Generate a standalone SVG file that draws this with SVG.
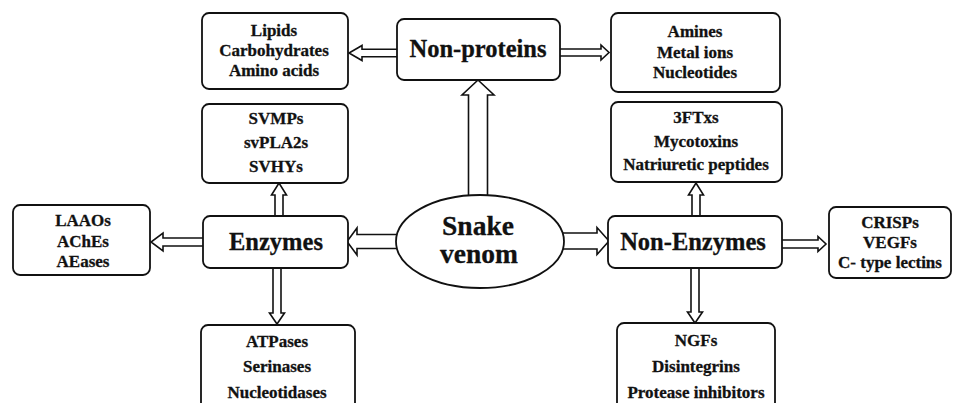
<svg xmlns="http://www.w3.org/2000/svg" width="953" height="403" viewBox="0 0 953 403">
<style>
.box{fill:#fff;stroke:#111;stroke-width:1.8}
.arr{fill:#fff;stroke:#111;stroke-width:1.6;stroke-linejoin:miter}
text{font-family:"Liberation Serif","Times New Roman",serif;font-weight:bold;fill:#111;text-anchor:middle;stroke:#111;stroke-width:0.3}
.s{font-size:17px}
.m{font-size:24.5px}
.l{font-size:27.5px}
</style>
<rect width="953" height="403" fill="#fff"/>
<g id="connectors">
<polygon class="arr" points="400,49.3 362,49.3 362,45.5 349,53 362,60.5 362,56.7 400,56.7"/>
<polygon class="arr" points="558,49 601,49 601,45 609,52.5 601,60 601,56 558,56"/>
<polygon class="arr" points="468.5,210 468.5,95 462,95 478,80 494,95 487.5,95 487.5,210"/>
<polygon class="arr" points="410,234.5 357,234.5 357,228 347,241.5 357,255 357,248.5 410,248.5"/>
<polygon class="arr" points="550,233 597,233 597,227.5 609,241 597,254.5 597,249 550,249"/>
<polygon class="arr" points="275,220 275,195 271.5,195 279,183 286.5,195 283,195 283,220"/>
<polygon class="arr" points="206,238 163,238 163,233 151,242 163,251 163,246 206,246"/>
<polygon class="arr" points="273,265 273,313 269.5,313 277,324 284.5,313 281,313 281,265"/>
<polygon class="arr" points="692,220 692,195 688.5,195 696,183 703.5,195 700,195 700,220"/>
<polygon class="arr" points="779,240 818,240 818,236.5 826,244 818,251.5 818,248 779,248"/>
<polygon class="arr" points="691,265 691,312 687.5,312 695,323 702.5,312 699,312 699,265"/>
</g>
<g id="snake-venom">
<ellipse class="box" cx="480" cy="241.5" rx="84" ry="46.5"/>
<text class="l" x="478" y="235">Snake</text>
<text class="l" x="479" y="263">venom</text>
</g>
<g id="non-proteins">
<rect class="box" x="397" y="19" width="163" height="61" rx="7"/>
<text class="m" x="478" y="57">Non-proteins</text>
</g>
<g id="lipids">
<rect class="box" x="202" y="13" width="146" height="76" rx="7"/>
<text class="s" x="274" y="36">Lipids</text>
<text class="s" x="274" y="56">Carbohydrates</text>
<text class="s" x="274" y="76">Amino acids</text>
</g>
<g id="amines">
<rect class="box" x="611" y="13" width="169" height="79" rx="7"/>
<text class="s" x="695" y="37">Amines</text>
<text class="s" x="695" y="58">Metal ions</text>
<text class="s" x="695" y="78">Nucleotides</text>
</g>
<g id="svmps">
<rect class="box" x="202" y="104" width="146" height="79" rx="7"/>
<text class="s" x="276" y="124">SVMPs</text>
<text class="s" x="276" y="148">svPLA2s</text>
<text class="s" x="276" y="172">SVHYs</text>
</g>
<g id="enzymes">
<rect class="box" x="203" y="216" width="145" height="52" rx="7"/>
<text class="m" x="276" y="250">Enzymes</text>
</g>
<g id="laaos">
<rect class="box" x="13" y="205" width="137" height="70" rx="7"/>
<text class="s" x="83" y="226">LAAOs</text>
<text class="s" x="83" y="247">AChEs</text>
<text class="s" x="83" y="267">AEases</text>
</g>
<g id="atpases">
<rect class="box" x="201" y="325" width="154" height="95" rx="7"/>
<text class="s" x="277" y="347">ATPases</text>
<text class="s" x="277" y="372">Serinases</text>
<text class="s" x="277" y="398">Nucleotidases</text>
</g>
<g id="ftxs">
<rect class="box" x="611" y="102" width="171" height="80" rx="7"/>
<text class="s" x="696" y="123">3FTxs</text>
<text class="s" x="696" y="147">Mycotoxins</text>
<text class="s" x="696" y="170">Natriuretic peptides</text>
</g>
<g id="non-enzymes">
<rect class="box" x="608" y="216" width="174" height="52" rx="7"/>
<text class="m" x="693" y="250">Non-Enzymes</text>
</g>
<g id="crisps">
<rect class="box" x="829" y="207" width="122" height="71" rx="7"/>
<text class="s" x="890" y="228">CRISPs</text>
<text class="s" x="890" y="248">VEGFs</text>
<text class="s" x="890" y="268">C- type lectins</text>
</g>
<g id="ngfs">
<rect class="box" x="617" y="323" width="158" height="95" rx="7"/>
<text class="s" x="696" y="346">NGFs</text>
<text class="s" x="696" y="372">Disintegrins</text>
<text class="s" x="696" y="398">Protease inhibitors</text>
</g>
</svg>
